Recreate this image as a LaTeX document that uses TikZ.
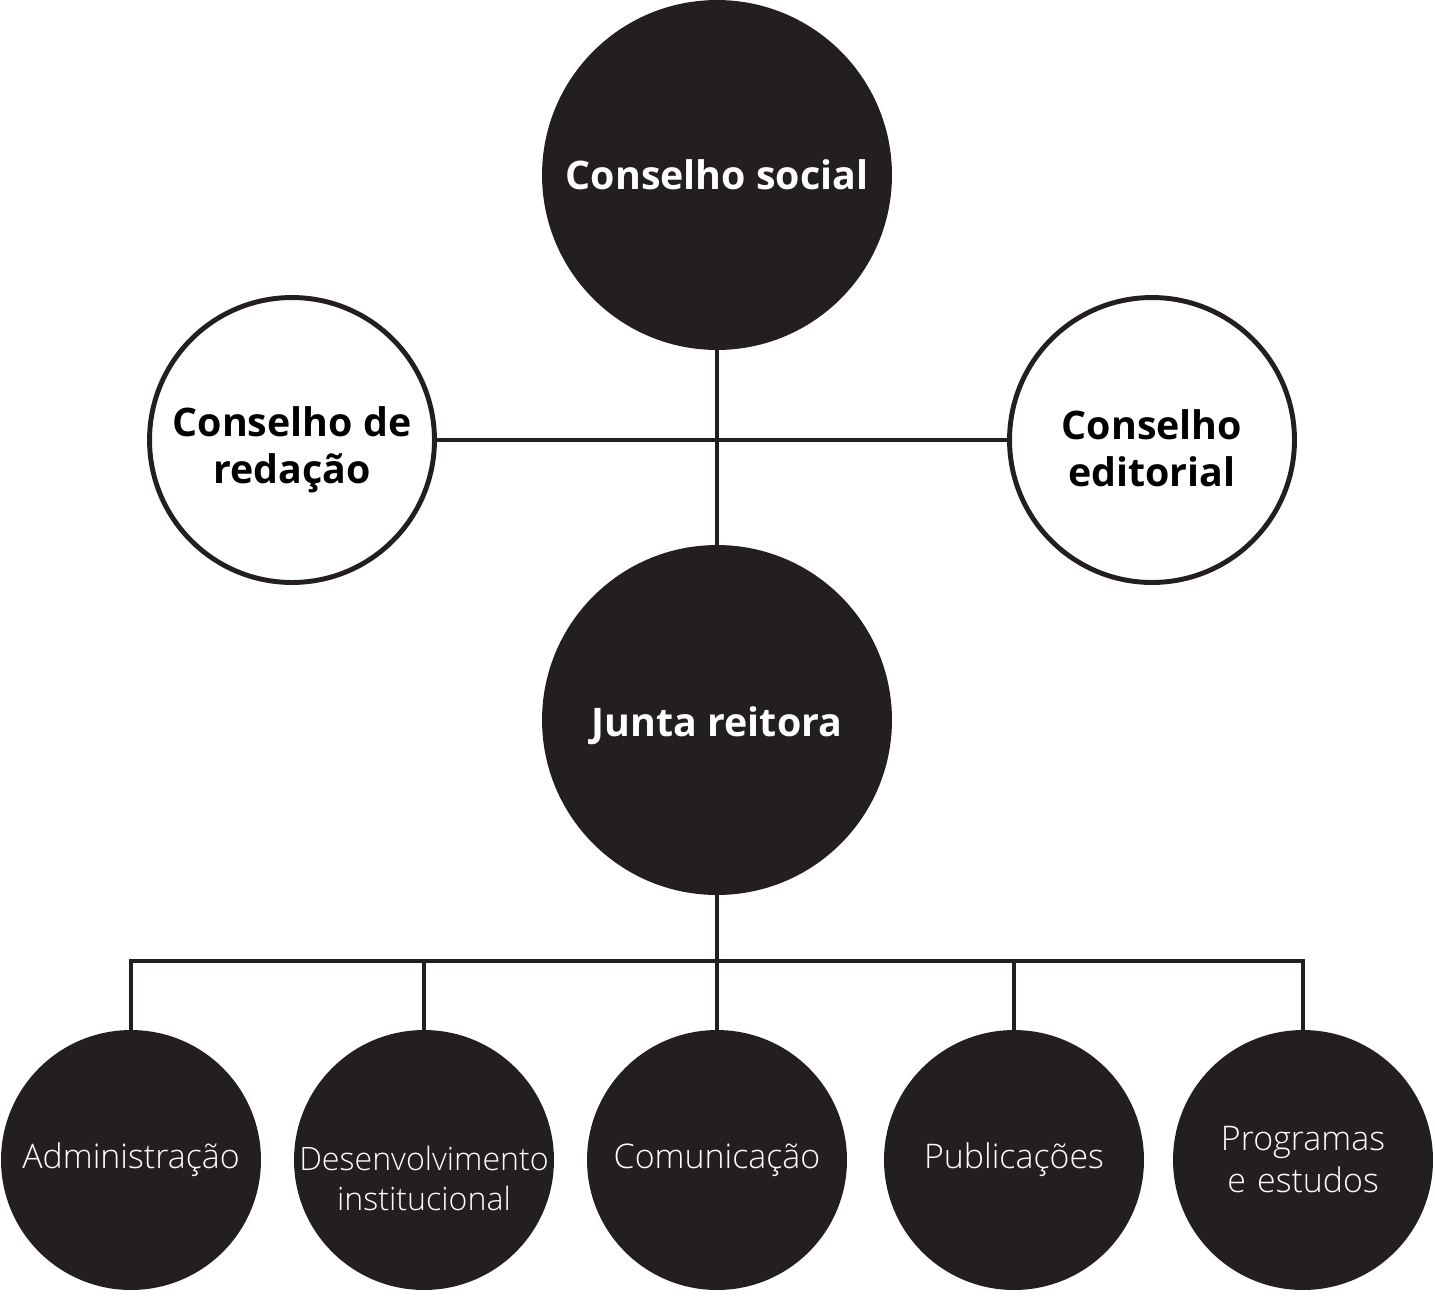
\documentclass[tikz,border=0pt]{standalone}
\usepackage{fontspec}
\setmainfont{Open Sans}
\IfFontExistsTF{Open Sans Light}{\newfontfamily\lightfont{Open Sans Light}}{\newfontfamily\lightfont{Open Sans}}
\definecolor{ink}{HTML}{231F20}
\begin{document}
\begin{tikzpicture}[x=0.02cm,y=-0.02cm,
  bigdark/.style={circle,fill=ink,inner sep=0pt,outer sep=0pt,minimum size=7cm,text=white,
    font=\fontsize{22.4}{26}\selectfont\bfseries},
  side/.style={circle,draw=ink,line width=2.8pt,fill=white,inner sep=0pt,outer sep=0pt,minimum size=5.7cm},
  unit/.style={circle,fill=ink,inner sep=0pt,outer sep=0pt,minimum size=5.2cm,text=white,
    font=\fontsize{19.3}{23.9}\selectfont\lightfont,align=center,text width=4.7cm},
  boldlabel/.style={font=\fontsize{22.4}{26.5}\selectfont\bfseries,align=center},
  conn/.style={draw=ink,line width=2.4pt}]
\useasboundingbox (0,0) rectangle (1435,1295);
\node[bigdark] (cs) at (717,175) {Conselho social};
\node[side] (cr) at (292,440) {};
\node[side] (ce) at (1152,440) {};
\node[bigdark] (jr) at (717,720) {};
\node[unit] (b1) at (131,1160) {Administração};
\node[unit] (b2) at (424,1160) {};
\node[unit] (b3) at (717,1160) {Comunicação};
\node[unit] (b4) at (1014,1160) {Publicações};
\node[unit] (b5) at (1303,1160) {Programas\\e estudos};
\node[boldlabel,text=black] (crt) at ([yshift=-10*0.02cm]cr.center) {Conselho de\\redação};
\node[boldlabel,text=black] (cet) at ([yshift=-8*0.02cm]ce.center) {Conselho\\editorial};
\node[boldlabel,text=white] (jrt) at ([yshift=-6*0.02cm]jr.center) {Junta reitora};
\node[font=\fontsize{18.3}{22.8}\selectfont\lightfont,align=center,text=white] (b2t) at ([yshift=-18*0.02cm]b2.center) {Desenvolvimento\\institucional};
\coordinate (hub) at (717,961);
\draw[conn] (cs.south) -- (jr.north);
\draw[conn] (cr.east) -- (ce.west);
\draw[conn] (jr.south) -- (hub);
\draw[conn] (b1.north) -- (b1.north |- hub) -- (b5.north |- hub) -- (b5.north);
\draw[conn] (b2.north) -- (b2.north |- hub);
\draw[conn] (b3.north) -- (hub);
\draw[conn] (b4.north) -- (b4.north |- hub);
\end{tikzpicture}
\end{document}
